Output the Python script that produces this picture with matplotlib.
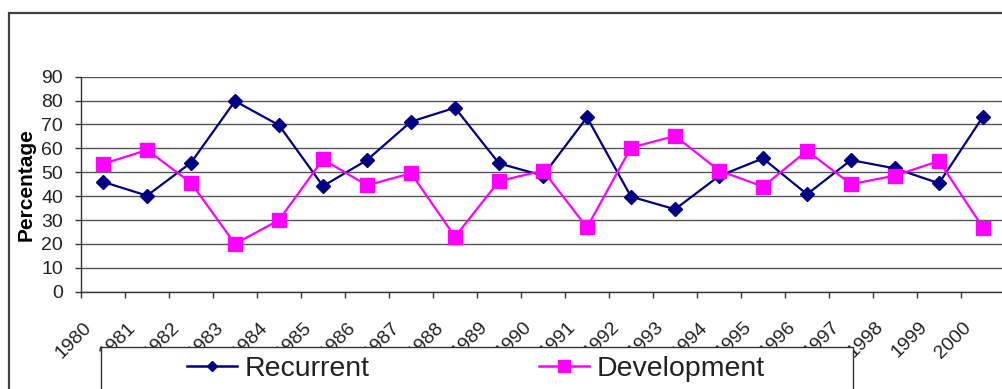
import matplotlib
matplotlib.use("Agg")
import matplotlib.pyplot as plt
from matplotlib.patches import Rectangle
from matplotlib.lines import Line2D
from matplotlib.transforms import ScaledTranslation

years = [str(y) for y in range(1980, 2001)]
recurrent = [46.0, 40.2, 54.0, 79.8, 69.7, 44.2, 55.1, 71.2, 77.0, 53.7, 48.6,
             73.0, 39.8, 34.5, 48.4, 55.8, 40.8, 55.1, 51.6, 45.4, 73.3]
development = [53.5, 59.3, 45.6, 20.0, 30.0, 55.4, 44.5, 49.6, 23.0, 46.3, 50.7,
               26.9, 60.3, 65.2, 50.7, 44.0, 59.0, 45.0, 48.6, 54.7, 26.8]
y_ticks = [0, 10, 20, 30, 40, 50, 60, 70, 80, 90]

W, H, DPI = 1002, 389, 100
PT = 72 / DPI  # points per pixel
fig = plt.figure(figsize=(W / DPI, H / DPI), dpi=DPI)
fig.patch.set_facecolor("white")


def fx(px):
    return px / W


def fy(py):
    return 1 - py / H


# outer chart-area frame
fig.patches.append(Rectangle((fx(9), fy(420)), fx(1020) - fx(9), fy(13) - fy(420),
                             transform=fig.transFigure, fill=False,
                             edgecolor="#404040", linewidth=1.6, zorder=-1))

ax = fig.add_axes([fx(81), fy(291.7), fx(1005) - fx(81), fy(76.7) - fy(291.7)])
ax.set_facecolor("none")

x = list(range(len(years)))
ax.plot(x, recurrent, color="#000080", linewidth=1.6, marker="D", markersize=7,
        label="Recurrent", zorder=3)
ax.plot(x, development, color="#FF00FF", linewidth=1.6, marker="s", markersize=10,
        label="Development", zorder=3)

ax.set_xlim(-0.5, len(years) - 0.5)
ax.set_ylim(0, 90)
ax.set_yticks(y_ticks)
ax.set_yticklabels([str(v) for v in y_ticks], family="Liberation Sans",
                   fontsize=14, color="#222222")
ax.tick_params(axis="y", direction="out", length=6 * PT, width=1, color="#333333",
               pad=12 * PT)
ax.yaxis.grid(True, color="#555555", linewidth=1.0)
ax.set_axisbelow(True)

ax.set_xticks(x)
ax.set_xticks([i - 0.5 for i in range(len(years) + 1)], minor=True)
ax.tick_params(axis="x", which="major", length=0, pad=0)
ax.tick_params(axis="x", which="minor", direction="out", length=6 * PT, width=1,
               color="#333333")
ax.set_xticklabels(years, rotation=45, ha="right", va="center",
                   rotation_mode="anchor", family="Liberation Sans",
                   fontsize=14, color="#222222")
shift = ScaledTranslation(-14 / DPI, -33 / DPI, fig.dpi_scale_trans)
for lab in ax.get_xticklabels():
    lab.set_transform(lab.get_transform() + shift)

for s in ("top", "right"):
    ax.spines[s].set_visible(False)
for s in ("left", "bottom"):
    ax.spines[s].set_color("#333333")
    ax.spines[s].set_linewidth(1.0)

fig.text(fx(26), fy(185), "Percentage", rotation=90, ha="center", va="center",
         family="Liberation Sans", weight="bold", fontsize=15, color="black")

# legend box covering the lower part of the axis labels
fig.patches.append(Rectangle((fx(101), fy(420)), fx(853) - fx(101), fy(347) - fy(420),
                             transform=fig.transFigure, facecolor="white",
                             edgecolor="#333333", linewidth=1.0, zorder=4))

handles = [Line2D([], [], color="#000080", linewidth=1.8, marker="D", markersize=5.5),
           Line2D([], [], color="#FF00FF", linewidth=1.8, marker="s", markersize=9)]
fs = 20.5
fpx = fs * DPI / 72
leg = fig.legend(handles, ["Recurrent", "Development"], loc="center left",
                 bbox_to_anchor=(fx(187), fy(369)), bbox_transform=fig.transFigure,
                 ncol=2, frameon=False, borderpad=0, borderaxespad=0,
                 handlelength=50 / fpx, handletextpad=8 / fpx,
                 columnspacing=(541 - 372) / fpx,
                 prop={"family": "Liberation Sans", "size": fs})
for t in leg.get_texts():
    t.set_color("#222222")
leg.set_zorder(5)

fig.savefig("out.png", dpi=DPI)
